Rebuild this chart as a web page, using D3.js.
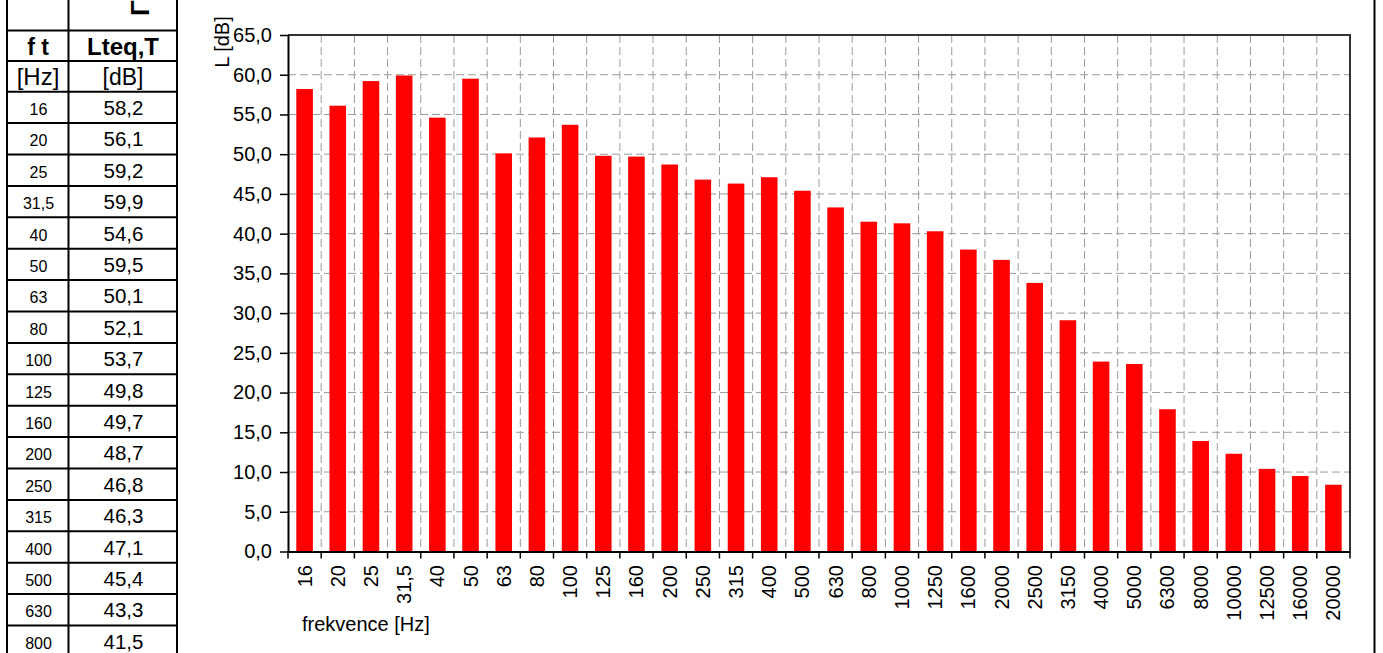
<!DOCTYPE html>
<html>
<head>
<meta charset="utf-8">
<script src="https://cdn.jsdelivr.net/npm/d3@7"></script>
<style>
  body { margin: 0; background: #fff; }
  svg { display: block; font-family: Arial, "Liberation Sans", sans-serif; }
</style>
</head>
<body>
<div id="chart"></div>
<script>
// frequencies (labels as in the chart) and measured levels
const freqs = ["16", "20", "25", "31,5", "40", "50", "63", "80", "100", "125", "160", "200",
  "250", "315", "400", "500", "630", "800", "1000", "1250", "1600", "2000", "2500", "3150",
  "4000", "5000", "6300", "8000", "10000", "12500", "16000", "20000"];
const levels = [58.2, 56.1, 59.2, 59.9, 54.6, 59.5, 50.1, 52.1, 53.7, 49.8, 49.7, 48.7,
  46.8, 46.3, 47.1, 45.4, 43.3, 41.5, 41.3, 40.3, 38.0, 36.7, 33.8, 29.1,
  23.9, 23.6, 17.9, 13.9, 12.3, 10.4, 9.5, 8.4];
const yTicks = [0, 5, 10, 15, 20, 25, 30, 35, 40, 45, 50, 55, 60, 65];
const tableRows = 18; // rows visible in the side table

const width = 1383, height = 653;
const plot = {left: 288, right: 1350, top: 35, bottom: 551.5};

const svg = d3.select("#chart").append("svg")
  .attr("width", width)
  .attr("height", height);

const comma = v => d3.format(".1f")(v).replace(".", ",");

// ---- side table ----
const tbl = svg.append("g");
const colX = [7, 68.5, 177];
const rowY = [0, 30.5, 61, 91.7];
for (let i = 1; i <= tableRows + 1; i++) rowY.push(91.7 + i * 31.4);

colX.forEach(x => tbl.append("line")
  .attr("x1", x).attr("x2", x).attr("y1", 0).attr("y2", height)
  .attr("stroke", "#000").attr("stroke-width", 2));
rowY.slice(1).forEach(y => tbl.append("line")
  .attr("x1", colX[0] - 1).attr("x2", colX[2] + 1).attr("y1", y).attr("y2", y)
  .attr("stroke", "#000").attr("stroke-width", 2));

// clipped rotated header fragment in the top row
tbl.append("text")
  .attr("transform", "translate(149,16) rotate(-90)")
  .attr("font-size", 26).attr("font-weight", "bold")
  .text("Γ");

tbl.append("text").attr("x", 38).attr("y", 55).attr("text-anchor", "middle")
  .attr("font-size", 23).attr("font-weight", "bold").text("f t");
tbl.append("text").attr("x", 123).attr("y", 55).attr("text-anchor", "middle")
  .attr("font-size", 24).attr("font-weight", "bold").text("Lteq,T");
tbl.append("text").attr("x", 38).attr("y", 85).attr("text-anchor", "middle")
  .attr("font-size", 24).text("[Hz]");
tbl.append("text").attr("x", 123).attr("y", 85).attr("text-anchor", "middle")
  .attr("font-size", 23).text("[dB]");

for (let i = 0; i < tableRows; i++) {
  const base = rowY[3 + i] + 23.3;
  tbl.append("text").attr("x", 38.5).attr("y", base).attr("text-anchor", "middle")
    .attr("font-size", 16).text(freqs[i]);
  tbl.append("text").attr("x", 123.5).attr("y", base).attr("text-anchor", "middle")
    .attr("font-size", 20.5).text(comma(levels[i]));
}

// right border of the chart area
svg.append("line")
  .attr("x1", 1374.5).attr("x2", 1374.5).attr("y1", 0).attr("y2", height)
  .attr("stroke", "#000").attr("stroke-width", 2);

// ---- bar chart ----
const x = d3.scaleBand()
  .domain(freqs)
  .range([plot.left, plot.right])
  .paddingInner(0.5)
  .paddingOuter(0.25);

const y = d3.scaleLinear()
  .domain([0, 65])
  .range([plot.bottom, plot.top]);

const gap = (x.step() - x.bandwidth()) / 2;
const bounds = freqs.map(d => x(d) - gap).concat([plot.right]);

// grid
svg.append("g")
  .selectAll("line")
  .data(yTicks.filter(t => t > 0 && t < 65))
  .join("line")
  .attr("x1", plot.left).attr("x2", plot.right)
  .attr("y1", d => y(d)).attr("y2", d => y(d))
  .attr("stroke", "#9a9a9a").attr("stroke-dasharray", "8,4");

svg.append("g")
  .selectAll("line")
  .data(bounds.slice(1, -1))
  .join("line")
  .attr("x1", d => d).attr("x2", d => d)
  .attr("y1", plot.top).attr("y2", plot.bottom)
  .attr("stroke", "#9a9a9a").attr("stroke-dasharray", "8,4");

// bars
svg.append("g")
  .selectAll("rect")
  .data(levels)
  .join("rect")
  .attr("x", (d, i) => x(freqs[i]))
  .attr("y", d => y(d))
  .attr("width", x.bandwidth())
  .attr("height", d => y(0) - y(d))
  .attr("fill", "#ff0000");

// plot frame top/right
svg.append("path")
  .attr("d", `M${plot.left},${plot.top}H${plot.right}V${plot.bottom}`)
  .attr("fill", "none").attr("stroke", "#333").attr("stroke-width", 2);

// y axis
const yAxis = svg.append("g")
  .attr("transform", `translate(${plot.left},0)`)
  .call(d3.axisLeft(y).tickValues(yTicks).tickFormat(comma)
    .tickSize(8).tickSizeOuter(0).tickPadding(8));
yAxis.select(".domain").attr("stroke", "#000").attr("stroke-width", 2);
yAxis.selectAll(".tick line").attr("stroke", "#000").attr("stroke-width", 1.5);
yAxis.selectAll(".tick text").attr("font-size", 20).attr("fill", "#000")
  .attr("font-family", "Arial, 'Liberation Sans', sans-serif");

// x axis
const xAxis = svg.append("g")
  .attr("transform", `translate(0,${plot.bottom})`)
  .call(d3.axisBottom(x).tickSize(0).tickSizeOuter(0));
xAxis.select(".domain").attr("stroke", "#000").attr("stroke-width", 2);
xAxis.selectAll(".tick text")
  .attr("font-size", 20).attr("fill", "#000")
  .attr("font-family", "Arial, 'Liberation Sans', sans-serif")
  .attr("text-anchor", "end")
  .attr("transform", "rotate(-90)")
  .attr("x", -13.5).attr("y", 7).attr("dy", 0);

svg.append("g")
  .selectAll("line")
  .data(bounds)
  .join("line")
  .attr("x1", d => d).attr("x2", d => d)
  .attr("y1", plot.bottom).attr("y2", plot.bottom + 7)
  .attr("stroke", "#000").attr("stroke-width", 1.5);

// axis titles
svg.append("text")
  .attr("transform", "translate(229,42) rotate(-90)")
  .attr("text-anchor", "middle")
  .attr("font-size", 20)
  .text("L [dB]");

svg.append("text")
  .attr("x", 302).attr("y", 631)
  .attr("font-size", 20)
  .text("frekvence [Hz]");
</script>
</body>
</html>
